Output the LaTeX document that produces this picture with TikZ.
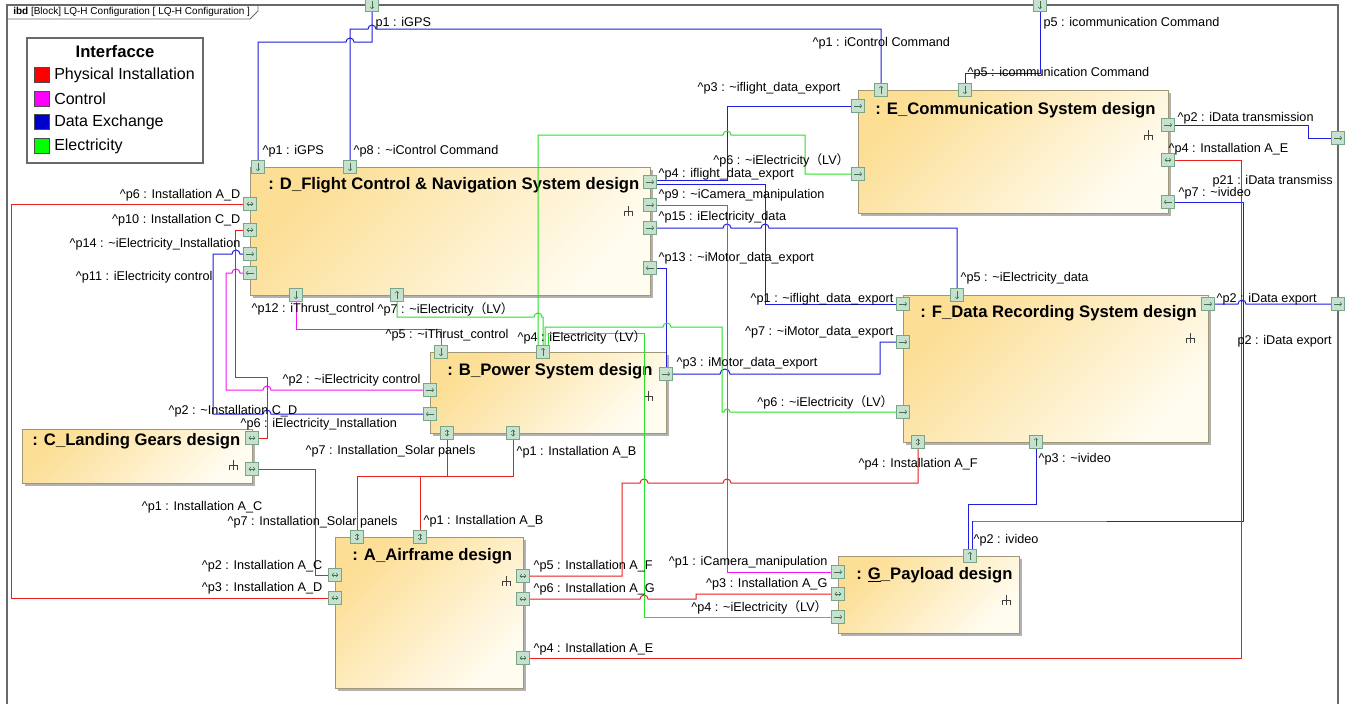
\documentclass[tikz,border=0pt]{standalone}
\usepackage{fontspec}
\setmainfont{Liberation Sans}
\newfontfamily\cjkfont{Noto Sans CJK SC}
\usetikzlibrary{arrows.meta,fit,shadows}
\definecolor{instred}{RGB}{235,30,30}
\definecolor{ctrlmag}{RGB}{245,20,245}
\definecolor{datablue}{RGB}{30,30,220}
\definecolor{elecgreen}{RGB}{40,225,40}
\definecolor{swred}{RGB}{255,0,0}
\definecolor{swmag}{RGB}{255,0,255}
\definecolor{swblue}{RGB}{0,0,205}
\definecolor{swgreen}{RGB}{0,255,0}
\definecolor{blockfill}{RGB}{252,222,148}
\definecolor{blockend}{RGB}{255,252,240}
\definecolor{blockline}{RGB}{160,150,120}
\definecolor{portfill}{RGB}{198,226,206}
\definecolor{portline}{RGB}{120,165,135}
\definecolor{portglyph}{RGB}{70,110,85}
\definecolor{framegray}{RGB}{105,105,105}
\newcommand{\crt}{\textasciicircum}
\newcommand{\tld}{\textasciitilde}
\newcommand{\LVpar}{{\cjkfont （}LV{\cjkfont ）}}
\tikzset{strc/.pic={\draw[line width=0.7pt, black!75] (0,-5) -- (0,5) (-4,0) -- (4,0) (-4,0) -- (-4,5) (4,0) -- (4,5);}}
\begin{document}
\begin{tikzpicture}[x=0.75pt, y=-0.75pt,
    lbl/.style={font=\fontsize{9.5}{11}\selectfont, inner sep=1pt},
    ttl/.style={font=\fontsize{12.5}{14}\selectfont\bfseries, inner sep=0pt},
    block/.style={draw=blockline, line width=0.6pt, inner sep=0pt, top color=blockfill, bottom color=blockend, shading angle=45,
        drop shadow={shadow xshift=2pt, shadow yshift=-2pt, fill=black!30, opacity=1}},
    port/.style={draw=portline, fill=portfill, minimum size=10pt, inner sep=0pt, line width=0.5pt},
    gl/.style={draw=portglyph, line width=0.4pt, -{Straight Barb[length=1.3pt,width=2.8pt]}},
    gll/.style={draw=portglyph, line width=0.4pt, {Straight Barb[length=1.3pt,width=2.8pt]}-{Straight Barb[length=1.3pt,width=2.8pt]}},
    pE/.style={port, path picture={\draw[gl] ([xshift=-3pt]path picture bounding box.center) -- ([xshift=3pt]path picture bounding box.center);}},
    pW/.style={port, path picture={\draw[gl] ([xshift=3pt]path picture bounding box.center) -- ([xshift=-3pt]path picture bounding box.center);}},
    pN/.style={port, path picture={\draw[gl] ([yshift=-3pt]path picture bounding box.center) -- ([yshift=3pt]path picture bounding box.center);}},
    pS/.style={port, path picture={\draw[gl] ([yshift=3pt]path picture bounding box.center) -- ([yshift=-3pt]path picture bounding box.center);}},
    pH/.style={port, path picture={\draw[gll] ([xshift=-2.5pt]path picture bounding box.center) -- ([xshift=2.5pt]path picture bounding box.center);}},
    pV/.style={port, path picture={\draw[gll] ([yshift=-2.5pt]path picture bounding box.center) -- ([yshift=2.5pt]path picture bounding box.center);}},
    swatch/.style={draw=black!70, minimum size=11pt, inner sep=0pt, line width=0.4pt},
    inst/.style={draw=instred, line width=0.75pt},
    ctrl/.style={draw=ctrlmag, line width=0.75pt},
    data/.style={draw=datablue, line width=0.75pt},
    elec/.style={draw=elecgreen, line width=0.75pt}]
\useasboundingbox (0,0) rectangle (1345,703);
\clip (0,0) rectangle (1345,703);
\fill[white] (0,0) rectangle (1345,703);
% frame and its tab
\draw[framegray, line width=0.8pt] (7,5) rectangle (1338,720);
\draw[framegray, line width=0.6pt] (7,19) -- (250,19) -- (258,11) -- (258,5);
\node[anchor=west, font=\fontsize{7.5}{8}\selectfont, inner sep=0pt] (tab) at (13,12) {\textbf{ibd} [Block] LQ-H Configuration [ LQ-H Configuration ]};

% legend
\node[draw=framegray, line width=0.8pt, fill=white, inner sep=0pt, fit={(27,38) (203,163)}] (legend) {};
\node[font=\fontsize{12.5}{14}\selectfont\bfseries] (lgdtitle) at (115,52) {Interfacce};
\node[swatch, fill=swred] (swinst) at (42,75) {};
\node[swatch, fill=swmag] (swctrl) at (42,99) {};
\node[swatch, fill=swblue] (swdata) at (42,122) {};
\node[swatch, fill=swgreen] (swelec) at (42,146) {};
\node[anchor=west, font=\fontsize{12}{14}\selectfont, inner sep=0pt] (lginst) at (54,75) {Physical Installation};
\node[anchor=west, font=\fontsize{12}{14}\selectfont, inner sep=0pt] (lgctrl) at (54,99) {Control};
\node[anchor=west, font=\fontsize{12}{14}\selectfont, inner sep=0pt] (lgdata) at (54,122) {Data Exchange};
\node[anchor=west, font=\fontsize{12}{14}\selectfont, inner sep=0pt] (lgelec) at (54,146) {Electricity};

% blocks
\node[block, fit={(250,167) (650,295)}] (D) {};
\node[block, fit={(858,90) (1168,213)}] (E) {};
\node[block, fit={(903,295) (1208,442)}] (F) {};
\node[block, fit={(430,352) (666,433)}] (B) {};
\node[block, fit={(22,429) (252,483)}] (C) {};
\node[block, fit={(335,537) (523,688)}] (A) {};
\node[block, fit={(838,556) (1019,633)}] (G) {};
\node[ttl, anchor=west] (Dtitle) at (268,185) {: D\_Flight Control \& Navigation System design};
\node[ttl, anchor=west] (Etitle) at (875,110) {: E\_Communication System design};
\node[ttl, anchor=west] (Ftitle) at (920,313) {: F\_Data Recording System design};
\node[ttl, anchor=west] (Btitle) at (447,371) {: B\_Power System design};
\node[ttl, anchor=west] (Ctitle) at (32,441) {: C\_Landing Gears design};
\node[ttl, anchor=west] (Atitle) at (352,556) {: A\_Airframe design};
\node[ttl, anchor=west] (Gtitle) at (856,575) {: \underline{G}\_Payload design};
\pic at (628,211) {strc};
\pic at (1148,135) {strc};
\pic at (1190,338) {strc};
\pic at (648,396) {strc};
\pic at (233,465) {strc};
\pic at (506,581) {strc};
\pic at (1006,600) {strc};

% ports
\node[pS] (Dp1) at (258,167) {};
\node[pS] (Dp8) at (350,167) {};
\node[pH] (Dp6) at (250,204) {};
\node[pH] (Dp10) at (250,230) {};
\node[pE] (Dp14) at (250,254) {};
\node[pW] (Dp11) at (250,273) {};
\node[pS] (Dp12) at (296,295) {};
\node[pN] (Dp7) at (397,295) {};
\node[pE] (Dp4) at (650,182) {};
\node[pE] (Dp9) at (650,205) {};
\node[pE] (Dp15) at (650,228) {};
\node[pW] (Dp13) at (650,268) {};
\node[pN] (Ep1) at (881,90) {};
\node[pS] (Ep5) at (965,90) {};
\node[pE] (Ep3) at (858,106) {};
\node[pE] (Ep6) at (858,174) {};
\node[pE] (Ep2) at (1168,125) {};
\node[pH] (Ep4) at (1168,160) {};
\node[pW] (Ep7) at (1168,202) {};
\node[pS] (Fp5) at (957,295) {};
\node[pE] (Fp1) at (903,304) {};
\node[pE] (Fp7) at (903,342) {};
\node[pE] (Fp6) at (903,412) {};
\node[pE] (Fp2) at (1208,304) {};
\node[pV] (Fp4) at (918,442) {};
\node[pN] (Fp3) at (1036,442) {};
\node[pS] (Bp5) at (441,352) {};
\node[pN] (Bp4) at (543,352) {};
\node[pE] (Bp2) at (430,390) {};
\node[pW] (Bp6) at (430,414) {};
\node[pE] (Bp3) at (666,374) {};
\node[pV] (Bp7) at (447,433) {};
\node[pV] (Bp1) at (513,433) {};
\node[pH] (Cp2) at (252,438) {};
\node[pH] (Cp1) at (252,469) {};
\node[pV] (Ap7) at (357,537) {};
\node[pV] (Ap1) at (420,537) {};
\node[pH] (Ap2) at (335,575) {};
\node[pH] (Ap3) at (335,598) {};
\node[pH] (Ap5) at (523,576) {};
\node[pH] (Ap6) at (523,599) {};
\node[pH] (Ap4) at (523,658) {};
\node[pE] (Gp1) at (838,572) {};
\node[pH] (Gp3) at (838,594) {};
\node[pE] (Gp4) at (838,617) {};
\node[pN] (Gp2) at (970,556) {};
\node[pS] (Tp1) at (372,5) {};
\node[pS] (Tp5) at (1040,5) {};
\node[pE] (Rp21) at (1338,138) {};
\node[pE] (Rp2) at (1338,304) {};

% data exchange
\draw[data] (Dp1) |- (346,42) arc[start angle=180,end angle=360,radius=4] -| (Tp1);
\draw[data] (Dp8) |- (368,29) arc[start angle=180,end angle=360,radius=4] -| (Ep1);
\draw[data] (Ep5) -- ++(0,-17) -| (Tp5);
\draw[data] (Ep2) -- ++(140,0) |- (Rp21);
\draw[data] ([yshift=1.5pt]Dp4.east) -- ++(70,0) |- (Ep3);
\draw[data] ([yshift=-2pt]Dp4.east) -- ++(108,0) |- (Fp1);
\draw[data] (Dp15) -- (723,228) arc[start angle=180,end angle=360,radius=4] -- (761,228) arc[start angle=180,end angle=360,radius=4] -| (Fp5);
\draw[data] (Dp13) -| (Bp3);
\draw[data] (Bp3) -- (720,374) arc[start angle=180,end angle=360,radius=5] -- (880,374) |- (Fp7);
\draw[data] (Ep7) -- ++(75,0) |- (973,521) -| ([xshift=1.5pt]Gp2.north);
\draw[data] (Fp3) -- ++(0,62) -| ([xshift=-1.5pt]Gp2.north);
\draw[data] (Fp2) -- (1238,304) arc[start angle=180,end angle=360,radius=4] -- (Rp2);
\draw[data] (Dp14) -- (240,254) arc[start angle=0,end angle=-180,radius=4] -| (213,414) -- (263,414) arc[start angle=180,end angle=360,radius=4] -- (Bp6);
% control
\draw[ctrl] (Dp11) -- (240,273) arc[start angle=0,end angle=-180,radius=4] -| (226,390) -- (263,390) arc[start angle=180,end angle=360,radius=4] -- (Bp2);
\draw[ctrl] (Dp12) -- ++(0,34) -| (Bp5);
\draw[ctrl] (Dp9) -- ++(77,0) |- (Gp1);
% physical installation
\draw[inst] (Dp6) -- ++(-239,0) |- (Ap3);
\draw[inst] (Dp10) -- ++(-15,0) |- (267,377) |- (Cp2);
\draw[inst] (Cp1) -- ++(63,0) |- (Ap2);
\draw[inst] (Bp7) -- ++(0,43) -| (Ap7);
\draw[inst] (Bp1) -- ++(0,43) -| (Ap1);
\draw[inst] (Ap5) -- (622,576) |- (640,483) arc[start angle=180,end angle=360,radius=4] -- (723,483) arc[start angle=180,end angle=360,radius=4] -| (Fp4);
\draw[inst] (Ap6) -- (640,599) arc[start angle=180,end angle=360,radius=4] -- (696,599) |- (Gp3);
\draw[inst] (Ap4) -- ++(718,0) |- (Ep4);
% electricity
\draw[elec] (Dp7) |- (534,317) arc[start angle=180,end angle=360,radius=4] -| (Bp4);
\draw[elec] ([xshift=-3.75pt]Bp4.north) |- (723,135) arc[start angle=180,end angle=360,radius=4] -- (805,135) |- (Ep6);
\draw[elec] ([xshift=1.5pt]Bp4.north) |- (663,327) arc[start angle=180,end angle=360,radius=4] -| (722,412) -- (724,412) arc[start angle=180,end angle=360,radius=3] -- (Fp6);
\draw[elec] ([xshift=3.75pt]Bp4.north) |- (644,333) |- (Gp4);

% port labels
\node[lbl, anchor=west] (tDp1) at (261,151) {\crt p1 : iGPS};
\node[lbl, anchor=west] (tDp8) at (352,151) {\crt p8 : \tld iControl Command};
\node[lbl, anchor=east] (tDp6) at (242,195) {\crt p6 : Installation A\_D};
\node[lbl, anchor=east] (tDp10) at (242,220) {\crt p10 : Installation C\_D};
\node[lbl, anchor=east] (tDp14) at (242,244) {\crt p14 : \tld iElectricity\_Installation};
\node[lbl, anchor=east] (tDp11) at (214,277) {\crt p11 : iElectricity control};
\node[lbl, anchor=west] (tDp12) at (250,309) {\crt p12 : iThrust\_control};
\node[lbl, anchor=west] (tDp7) at (376,309) {\crt p7 : \tld iElectricity\LVpar};
\node[lbl, anchor=west] (tDp4) at (657,174) {\crt p4 : iflight\_data\_export};
\node[lbl, anchor=west] (tDp9) at (657,195) {\crt p9 : \tld iCamera\_manipulation};
\node[lbl, anchor=west] (tDp15) at (657,217) {\crt p15 : iElectricity\_data};
\node[lbl, anchor=west] (tDp13) at (657,258) {\crt p13 : \tld iMotor\_data\_export};
\node[lbl, anchor=west] (tEp1) at (811,43) {\crt p1 : iControl Command};
\node[lbl, anchor=west] (tEp5) at (966,73) {\crt p5 : icommunication Command};
\node[lbl, anchor=east] (tEp3) at (842,88) {\crt p3 : \tld iflight\_data\_export};
\node[lbl, anchor=east] (tEp6) at (851,160) {\crt p6 : \tld iElectricity\LVpar};
\node[lbl, anchor=west] (tEp2) at (1176,118) {\crt p2 : iData transmission};
\node[lbl, anchor=west] (tEp4) at (1167,149) {\crt p4 : Installation A\_E};
\node[lbl, anchor=west] (tEp7) at (1177,193) {\crt p7 : \tld ivideo};
\node[lbl, anchor=west] (tFp5) at (959,278) {\crt p5 : \tld iElectricity\_data};
\node[lbl, anchor=east] (tFp1) at (895,299) {\crt p1 : \tld iflight\_data\_export};
\node[lbl, anchor=east] (tFp7) at (895,332) {\crt p7 : \tld iMotor\_data\_export};
\node[lbl, anchor=east] (tFp6) at (895,402) {\crt p6 : \tld iElectricity\LVpar};
\node[lbl, anchor=west] (tFp2) at (1215,299) {\crt p2 : iData export};
\node[lbl, anchor=west] (tFp4) at (857,464) {\crt p4 : Installation A\_F};
\node[lbl, anchor=west] (tFp3) at (1037,459) {\crt p3 : \tld ivideo};
\node[lbl, anchor=west] (tBp5) at (384,335) {\crt p5 : \tld iThrust\_control};
\node[lbl, anchor=west] (tBp4) at (516,337) {\crt p4 : iElectricity\LVpar};
\node[lbl, anchor=east] (tBp2) at (422,380) {\crt p2 : \tld iElectricity control};
\node[lbl, anchor=west] (tBp6) at (239,424) {\crt p6 : iElectricity\_Installation};
\node[lbl, anchor=west] (tBp3) at (675,363) {\crt p3 : iMotor\_data\_export};
\node[lbl, anchor=east] (tBp7) at (477,451) {\crt p7 : Installation\_Solar panels};
\node[lbl, anchor=west] (tBp1) at (515,452) {\crt p1 : Installation A\_B};
\node[lbl, anchor=west] (tCp2) at (167,411) {\crt p2 : \tld Installation C\_D};
\node[lbl, anchor=east] (tCp1) at (264,507) {\crt p1 : Installation A\_C};
\node[lbl, anchor=east] (tAp7) at (399,522) {\crt p7 : Installation\_Solar panels};
\node[lbl, anchor=west] (tAp1) at (422,521) {\crt p1 : Installation A\_B};
\node[lbl, anchor=east] (tAp2) at (324,566) {\crt p2 : Installation A\_C};
\node[lbl, anchor=east] (tAp3) at (324,588) {\crt p3 : Installation A\_D};
\node[lbl, anchor=west] (tAp5) at (532,566) {\crt p5 : Installation A\_F};
\node[lbl, anchor=west] (tAp6) at (532,589) {\crt p6 : Installation A\_G};
\node[lbl, anchor=west] (tAp4) at (532,649) {\crt p4 : Installation A\_E};
\node[lbl, anchor=east] (tGp1) at (829,562) {\crt p1 : iCamera\_manipulation};
\node[lbl, anchor=east] (tGp3) at (829,584) {\crt p3 : Installation A\_G};
\node[lbl, anchor=east] (tGp4) at (829,607) {\crt p4 : \tld iElectricity\LVpar};
\node[lbl, anchor=west] (tGp2) at (972,540) {\crt p2 : ivideo};
\node[lbl, anchor=west] (tTp1) at (374,23) {p1 : iGPS};
\node[lbl, anchor=west] (tTp5) at (1042,23) {p5 : icommunication Command};
\node[lbl, anchor=west] (tRp21) at (1211,181) {p21 : iData transmiss};
\node[lbl, anchor=west] (tRp2) at (1236,341) {p2 : iData export};
\end{tikzpicture}
\end{document}
